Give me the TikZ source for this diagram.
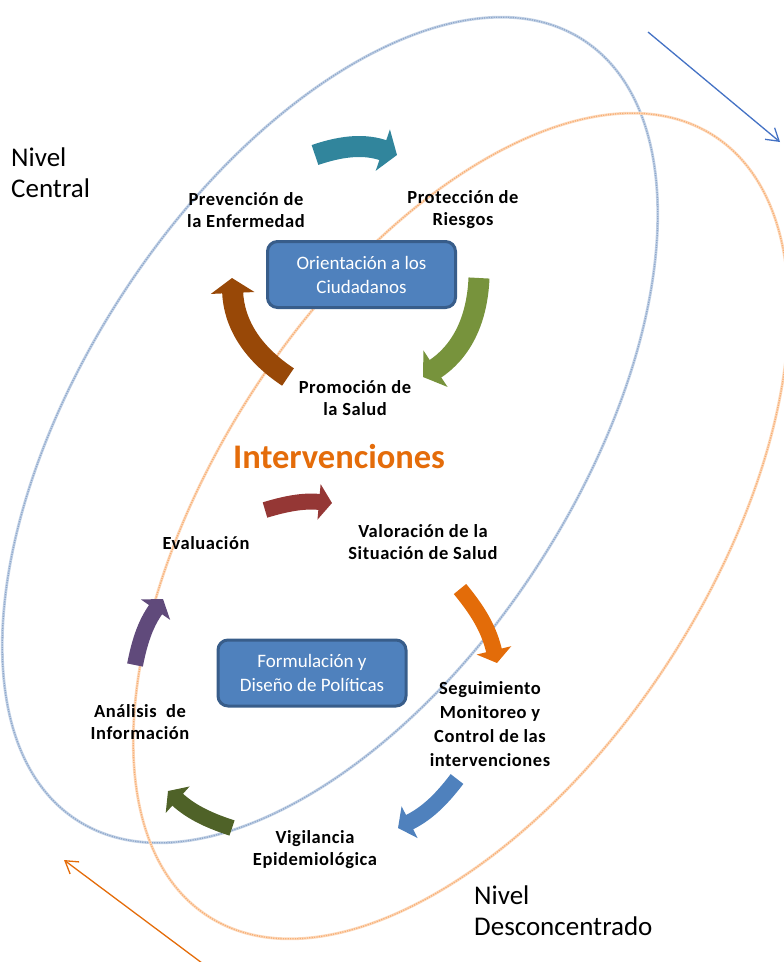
\documentclass[tikz,border=0pt]{standalone}
\usepackage{fontspec}
\setmainfont{Carlito}
\newfontfamily\stagefont[LetterSpace=3]{Carlito}
\usetikzlibrary{arrows.meta}

\definecolor{ringBlueSoft}{HTML}{C3D2E6}
\definecolor{ringBlueDot}{HTML}{8EA7CB}
\definecolor{ringOrangeSoft}{HTML}{FCD9BC}
\definecolor{ringOrangeDot}{HTML}{F8AE74}
\definecolor{pointerBlue}{HTML}{4472C4}
\definecolor{pointerOrange}{HTML}{E46C0A}
\definecolor{titleOrange}{HTML}{E46C0A}
\definecolor{panelFill}{HTML}{4F81BD}
\definecolor{panelEdge}{HTML}{385D8A}
\definecolor{stepTeal}{HTML}{31859C}
\definecolor{stepGreen}{HTML}{77933C}
\definecolor{stepBrown}{HTML}{984807}
\definecolor{stepRed}{HTML}{953735}
\definecolor{stepOrange}{HTML}{E36C09}
\definecolor{stepBlue}{HTML}{4F81BD}
\definecolor{stepOlive}{HTML}{4F6228}
\definecolor{stepPurple}{HTML}{604A7B}

\begin{document}
\begin{tikzpicture}[x=1pt,y=-1pt,
  stagetext/.style={font=\stagefont\fontsize{18.5}{22}\selectfont\bfseries, align=center, inner sep=0pt},
  leveltext/.style={font=\fontsize{27}{31}\selectfont, align=left, inner sep=0pt, anchor=west},
  panel/.style={draw=panelEdge, line width=3pt, fill=panelFill, rounded corners=10pt,
    minimum width=188pt, minimum height=66pt, text=white, align=center,
    font=\fontsize{19}{24}\selectfont, inner sep=0pt},
  bigturn/.style={line width=21pt, -{Triangle[length=15pt,width=43pt]}},
  smallturn/.style={line width=16pt, -{Triangle[length=13pt,width=35pt]}},
  pointer/.style={line width=1.3pt, -{Straight Barb[length=12pt,width=15pt]}},
  ringsoft/.style={line width=2.8pt},
  ringdots/.style={line width=1.3pt, dash pattern=on 1.2pt off 1.2pt}
]
\useasboundingbox (0,0) rectangle (784,962);
\clip (0,0) rectangle (784,962);

% the two levels, as tilted rings
\coordinate (centralC) at (330,430);
\coordinate (deconC) at (461,526);
\begin{scope}[rotate around={57:(centralC)}]
  \draw[ringsoft, ringBlueSoft] (centralC) ellipse [x radius=465, y radius=248];
  \draw[ringdots, ringBlueDot] (centralC) ellipse [x radius=465, y radius=248];
\end{scope}
\begin{scope}[rotate around={57:(deconC)}]
  \draw[ringsoft, ringOrangeSoft] (deconC) ellipse [x radius=465, y radius=248];
  \draw[ringdots, ringOrangeDot] (deconC) ellipse [x radius=465, y radius=248];
\end{scope}

% pointers between the levels
\coordinate (downFrom) at (648,32);
\coordinate (downTo) at (780,142);
\draw[pointer, pointerBlue] (downFrom) -- (downTo);
\coordinate (upFrom) at (206,966);
\coordinate (upTo) at (64,860);
\draw[pointer, pointerOrange] (upFrom) -- (upTo);

% upper cycle
\coordinate (tealA) at (315,155);   \coordinate (tealB) at (397,155);
\coordinate (greenA) at (479,278);  \coordinate (greenB) at (423,377);
\coordinate (brownA) at (288,377);  \coordinate (brownB) at (232,278);
\draw[bigturn, stepTeal] (tealA) to[bend left=19] (tealB);
\draw[bigturn, stepGreen] (greenA) to[bend left=27] (greenB);
\draw[bigturn, stepBrown] (brownA) to[bend left=27] (brownB);

% lower cycle
\coordinate (redA) at (265,510);    \coordinate (redB) at (332,503);
\coordinate (orangeA) at (460,589); \coordinate (orangeB) at (497,663);
\coordinate (blueA) at (457,779);   \coordinate (blueB) at (398,828);
\coordinate (oliveA) at (232,828);  \coordinate (oliveB) at (168,791);
\coordinate (purpleA) at (135,665); \coordinate (purpleB) at (163,599);
\draw[smallturn, stepRed] (redA) to[bend left=11] (redB);
\draw[smallturn, stepOrange] (orangeA) to[bend left=13] (orangeB);
\draw[smallturn, stepBlue] (blueA) to[bend left=13] (blueB);
\draw[smallturn, stepOlive] (oliveA) to[bend left=12] (oliveB);
\draw[smallturn, stepPurple] (purpleA) to[bend left=12] (purpleB);

% central boxes
\node[panel] (orientacion) at (361.5,274.5) {Orientación a los\\Ciudadanos};
\node[panel] (formulacion) at (312,673) {Formulación y\\Diseño de Políticas};

% stage labels
\node[stagetext] (prevencion) at (246,210) {Prevención de\\la Enfermedad};
\node[stagetext] (proteccion) at (463,210) {Protección de\\Riesgos};
\node[stagetext] (promocion) at (355,398) {Promoción de\\la Salud};
\node[font=\fontsize{34.5}{40}\selectfont\bfseries, text=titleOrange, inner sep=0pt] (intervenciones) at (339,457) {Intervenciones};
\node[stagetext] (evaluacion) at (206,543) {Evaluación};
\node[stagetext] (valoracion) at (423,542) {Valoración de la\\Situación de Salud};
\node[stagetext, font=\stagefont\fontsize{18.5}{24}\selectfont\bfseries] (seguimiento) at (490,724) {Seguimiento\\Monitoreo y\\Control de las\\intervenciones};
\node[stagetext] (analisis) at (140,722) {Análisis~~de\\Información};
\node[stagetext] (vigilancia) at (315,850) {Vigilancia\\Epidemiológica};

% level names
\node[leveltext] (central) at (11,173) {Nivel\\Central};
\node[leveltext] (desconcentrado) at (474,911) {Nivel\\Desconcentrado};
\end{tikzpicture}
\end{document}
